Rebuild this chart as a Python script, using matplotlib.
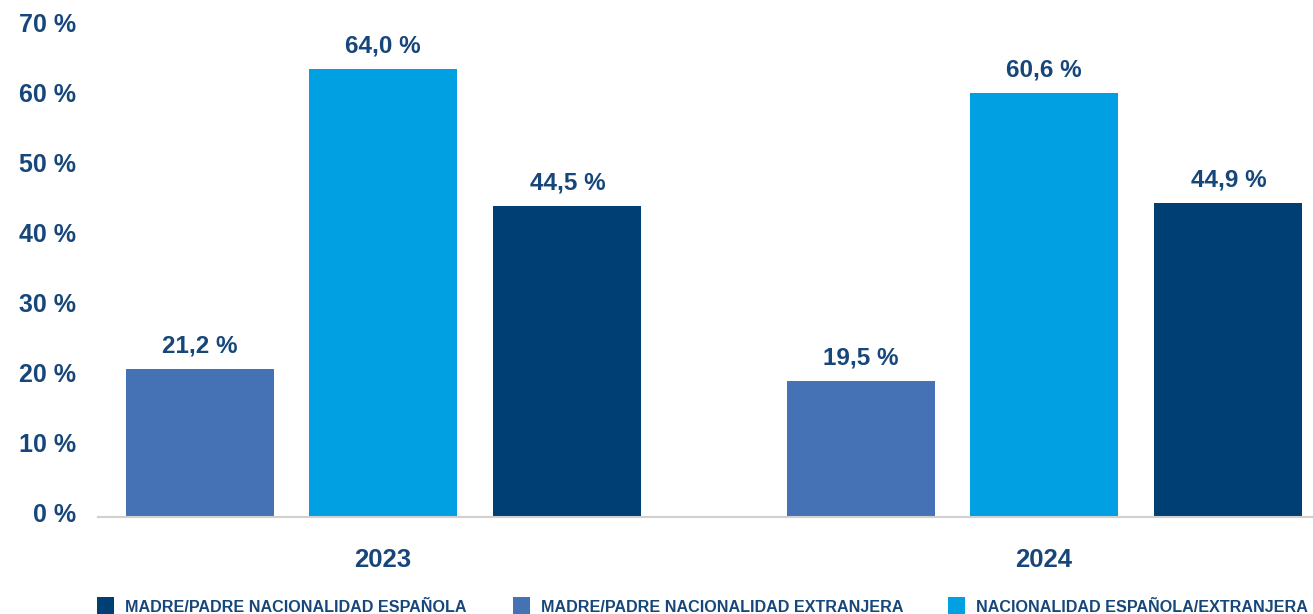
import matplotlib
matplotlib.use("Agg")
import matplotlib.pyplot as plt
from matplotlib.patches import Rectangle
from matplotlib.transforms import ScaledTranslation

years = ["2023", "2024"]
series_names = ["MADRE/PADRE NACIONALIDAD EXTRANJERA",
                "NACIONALIDAD ESPAÑOLA/EXTRANJERA",
                "MADRE/PADRE NACIONALIDAD ESPAÑOLA"]
extranjera = [21.2, 19.5]
mixta = [64.0, 60.6]
espanola = [44.5, 44.9]
yticks = [0, 10, 20, 30, 40, 50, 60, 70]
legend_order = ["MADRE/PADRE NACIONALIDAD ESPAÑOLA",
                "MADRE/PADRE NACIONALIDAD EXTRANJERA",
                "NACIONALIDAD ESPAÑOLA/EXTRANJERA"]

colors = {
    "MADRE/PADRE NACIONALIDAD EXTRANJERA": "#4472B4",
    "NACIONALIDAD ESPAÑOLA/EXTRANJERA": "#00A0E2",
    "MADRE/PADRE NACIONALIDAD ESPAÑOLA": "#003F74",
}
text_color = "#17477A"
font = "Liberation Sans"

W, H, DPI = 1313, 614, 100
fig = plt.figure(figsize=(W / DPI, H / DPI), dpi=DPI)
ax = fig.add_axes([98 / W, (H - 517) / H, 1 - 98 / W, 517 / H])

values = [extranjera, mixta, espanola]
offsets = [-0.277, 0.0, 0.279]
width = 0.224
for name, vals, off in zip(series_names, values, offsets):
    xs = [i + off for i in range(len(years))]
    bars = ax.bar(xs, vals, width=width, color=colors[name], label=name, zorder=2)
    for b, v in zip(bars, vals):
        ax.annotate(f"{v:.1f} %".replace(".", ","),
                    (b.get_x() + b.get_width() / 2, v),
                    xytext=(0, 16.5), textcoords="offset points",
                    ha="center", va="center", fontsize=17.5, fontweight="bold",
                    color=text_color, family=font)

ax.set_xlim(-0.431, 1.407)
ax.set_ylim(0, 517 / 7.0)
ax.set_xticks(range(len(years)))
ax.set_xticklabels(years, fontsize=18.5, fontweight="bold", color=text_color, family=font)
ax.set_yticks(yticks)
ax.set_yticklabels([f"{t} %" for t in yticks], fontsize=18, fontweight="bold",
                   color=text_color, family=font)
ax.tick_params(axis="x", length=0, pad=22)
ax.tick_params(axis="y", length=0, pad=16)
for lbl in ax.get_yticklabels():
    lbl.set_transform(lbl.get_transform() + ScaledTranslation(0, 4.5 / DPI, fig.dpi_scale_trans))

for s in ["top", "right", "left"]:
    ax.spines[s].set_visible(False)
ax.spines["bottom"].set_color("#D0D0D0")
ax.spines["bottom"].set_linewidth(1.5)
ax.set_facecolor("white")

# legend (manual layout)
leg_x = [97, 513, 948]
for x, name in zip(leg_x, legend_order):
    fig.patches.append(Rectangle((x / W, 0), 17 / W, 17 / H, transform=fig.transFigure,
                                 facecolor=colors[name], edgecolor="none"))
    fig.text((x + 28) / W, (H - 607) / H, name, fontsize=11.6, fontweight="bold",
             color=text_color, family=font, ha="left", va="center")

fig.savefig("out.png", dpi=DPI, facecolor="white")
